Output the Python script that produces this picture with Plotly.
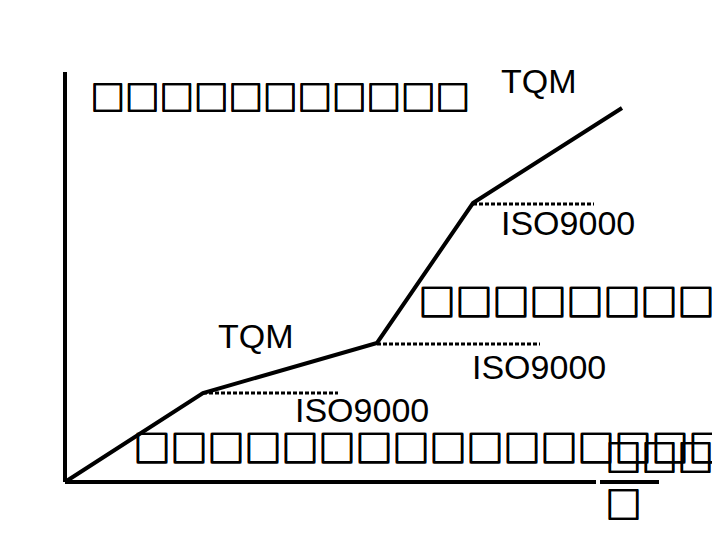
import plotly.graph_objects as go

# Stage curve (x = progress, y = quality level)
stage_x = [65, 203, 377, 473, 622]
stage_y = [58, 147, 197, 337, 432]

# ISO9000 plateau reference levels (start x, end x, level)
plateau_start = [203, 377, 473]
plateau_end = [338, 540, 594]
plateau_level = [147, 196, 336]

# Axes
axis_x_end = 659
axis_y_end = 468
axis_origin = (65, 58)

tofu = "\u25a1"
top_text = tofu * 11
mid_text = tofu * 10
bottom_text = tofu * 17
corner_text = tofu * 3 + "<br>" + tofu
tqm_label = "TQM"
iso_label = "ISO9000"

fig = go.Figure()

# axes lines
ox, oy = axis_origin
fig.add_trace(go.Scatter(x=[ox, ox, None, ox, 596, None, 600, axis_x_end],
                         y=[axis_y_end, oy, None, oy, oy, None, oy, oy],
                         mode="lines", line=dict(color="black", width=4),
                         hoverinfo="skip", showlegend=False))

# dotted plateaus
for xs, xe, lv in zip(plateau_start, plateau_end, plateau_level):
    fig.add_trace(go.Scatter(x=[xs, xe], y=[lv, lv], mode="lines",
                             line=dict(color="black", width=3, dash="4px,2px"),
                             hoverinfo="skip", showlegend=False))

# main curve
fig.add_trace(go.Scatter(x=stage_x, y=stage_y, mode="lines",
                         line=dict(color="black", width=4),
                         hoverinfo="skip", showlegend=False))

latin = "Liberation Sans, Arial, sans-serif"
cjk = "Noto Sans CJK SC"
thick = "1px 0px 0px black, 0px 1px 0px black, 1px 1px 0px black"

def ann(x, y, text, size, family, shadow="none", **kw):
    fig.add_annotation(x=x, y=y, xref="x", yref="y", text=text, showarrow=False,
                       xanchor="left", yanchor="middle",
                       font=dict(size=size, family=family, color="black", shadow=shadow), **kw)

ann(88, 445, top_text, 34.5, cjk, thick)
ann(499, 459, tqm_label, 34, latin)
ann(499, 317, iso_label, 34, latin)
ann(416, 240, mid_text, 37, cjk, thick)
ann(216, 204, tqm_label, 34, latin)
ann(470, 173, iso_label, 34, latin)
ann(293, 130, iso_label, 34, latin)
ann(131, 94, bottom_text, 37, cjk, thick)
ann(603, 62, corner_text, 36, cjk, thick, align="left")

# page body has an 8px margin; offset the ranges so marks land on the same pixels
fig.update_layout(
    width=720, height=540,
    margin=dict(l=0, r=0, t=0, b=0),
    paper_bgcolor="white", plot_bgcolor="white",
    xaxis=dict(range=[8, 728], visible=False, fixedrange=True),
    yaxis=dict(range=[-8, 532], visible=False, fixedrange=True),
    showlegend=False,
)

fig.write_html("out.html")
